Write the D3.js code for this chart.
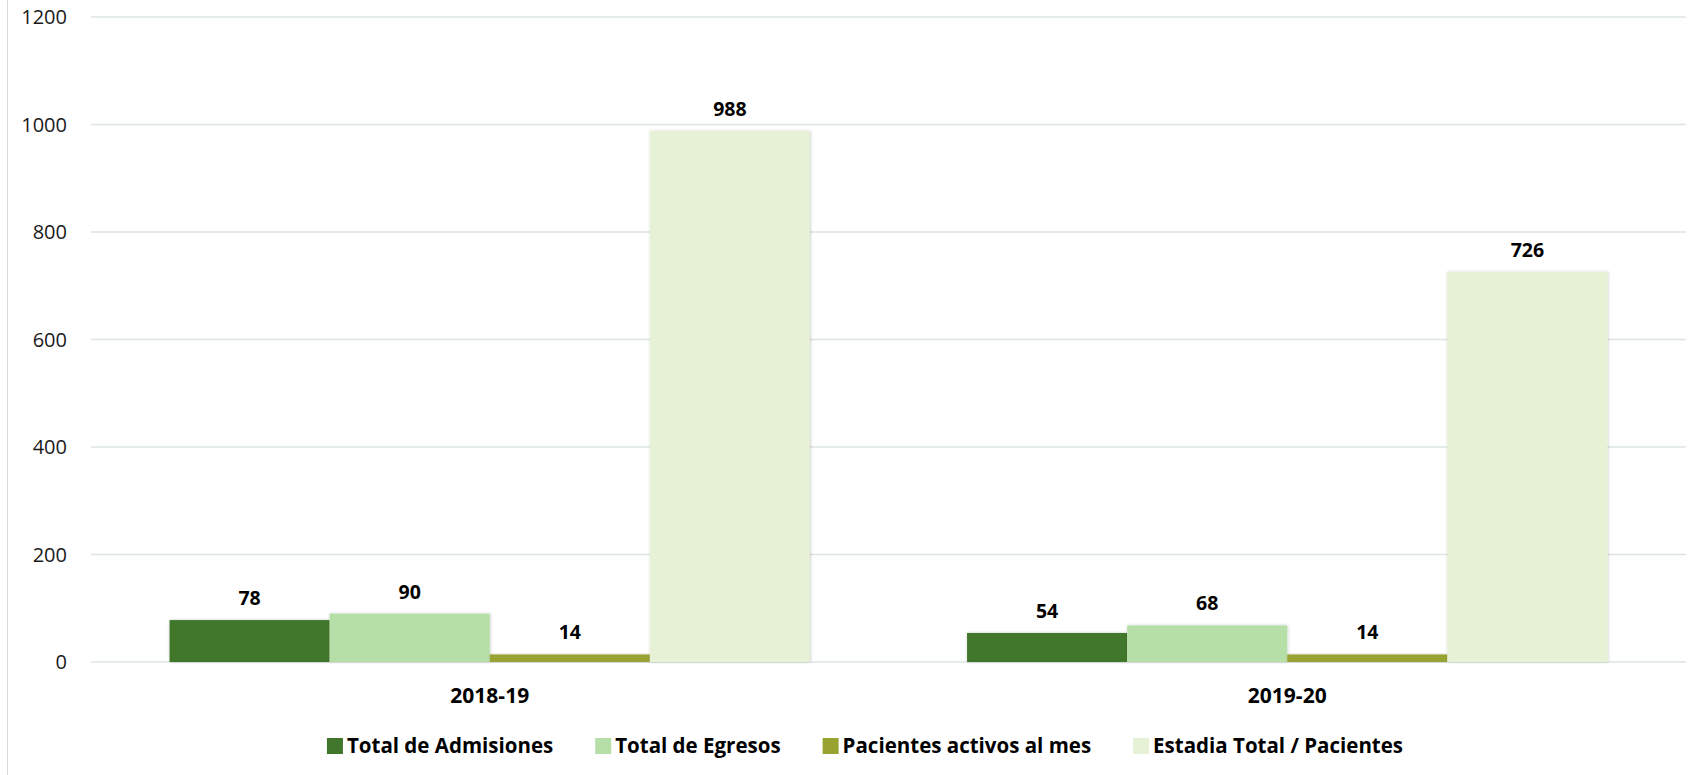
<!DOCTYPE html>
<html>
<head>
<meta charset="utf-8">
<script src="https://cdn.jsdelivr.net/npm/d3@7"></script>
<style>
  body { margin: 0; background: #fff; }
  text { font-family: "Open Sans", "Noto Sans", sans-serif; }
</style>
</head>
<body>
<div id="chart"></div>
<script>
var periods = ["2018-19", "2019-20"];
var seriesNames = ["Total de Admisiones", "Total de Egresos", "Pacientes activos al mes", "Estadia Total / Pacientes"];
var admisiones = [78, 54];
var egresos = [90, 68];
var activos = [14, 14];
var estadia = [988, 726];
var yTicks = [0, 200, 400, 600, 800, 1000, 1200];
var colors = ["#41772c", "#b6dfa8", "#99a330", "#e6f1d5"];

var allSeries = [admisiones, egresos, activos, estadia];

var W = 1692, H = 775;
var margin = {top: 17, right: 6, bottom: 113, left: 91};

var svg = d3.select("#chart").append("svg")
    .attr("width", W)
    .attr("height", H);

var defs = svg.append("defs");
var shadow = defs.append("filter").attr("id", "shadow")
    .attr("x", "-10%").attr("y", "-10%").attr("width", "120%").attr("height", "120%");
shadow.append("feDropShadow")
    .attr("dx", 0.5).attr("dy", 0)
    .attr("stdDeviation", 1.5)
    .attr("flood-color", "#000")
    .attr("flood-opacity", 0.22);

// left chart border
svg.append("line")
    .attr("x1", 7.5).attr("x2", 7.5)
    .attr("y1", 0).attr("y2", H)
    .attr("stroke", "#d9d9d9")
    .attr("stroke-width", 1);

var x0 = d3.scaleBand()
    .domain(periods)
    .range([margin.left, W - margin.right])
    .paddingInner(0.197)
    .paddingOuter(0.0985);

var x1 = d3.scaleBand()
    .domain(d3.range(seriesNames.length))
    .range([0, x0.bandwidth()]);

var y = d3.scaleLinear()
    .domain([0, 1200])
    .range([H - margin.bottom, margin.top]);

// gridlines
svg.selectAll(".grid")
    .data(yTicks)
  .enter().append("line")
    .attr("class", "grid")
    .attr("x1", margin.left)
    .attr("x2", W - margin.right)
    .attr("y1", function(d){ return y(d); })
    .attr("y2", function(d){ return y(d); })
    .attr("stroke", "#dde4e4")
    .attr("stroke-width", 1.5);

svg.selectAll(".ylab")
    .data(yTicks)
  .enter().append("text")
    .attr("class", "ylab")
    .attr("x", 67)
    .attr("y", function(d){ return y(d); })
    .attr("dy", "0.35em")
    .attr("text-anchor", "end")
    .attr("font-size", "20px")
    .attr("fill", "#1a1a1a")
    .text(function(d){ return d; });

// bars
var rows = [];
periods.forEach(function(p, i){
  allSeries.forEach(function(s, j){
    rows.push({period: p, series: j, value: s[i]});
  });
});

svg.selectAll(".bar")
    .data(rows)
  .enter().append("rect")
    .attr("class", "bar")
    .attr("x", function(d){ return x0(d.period) + x1(d.series); })
    .attr("y", function(d){ return y(d.value); })
    .attr("width", x1.bandwidth())
    .attr("height", function(d){ return y(0) - y(d.value); })
    .attr("fill", function(d){ return colors[d.series]; })
    .attr("filter", "url(#shadow)");

svg.selectAll(".val")
    .data(rows)
  .enter().append("text")
    .attr("class", "val")
    .attr("x", function(d){ return x0(d.period) + x1(d.series) + x1.bandwidth()/2; })
    .attr("y", function(d){ return y(d.value) - 15; })
    .attr("text-anchor", "middle")
    .attr("font-size", "19.5px")
    .attr("font-weight", "bold")
    .attr("fill", "#000")
    .text(function(d){ return d.value; });

// category labels
svg.selectAll(".cat")
    .data(periods)
  .enter().append("text")
    .attr("class", "cat")
    .attr("x", function(d){ return x0(d) + x0.bandwidth()/2; })
    .attr("y", 703)
    .attr("text-anchor", "middle")
    .attr("font-size", "21px")
    .attr("font-weight", "bold")
    .attr("fill", "#000")
    .text(function(d){ return d; });

// legend
var legend = svg.append("g");
var items = legend.selectAll(".leg")
    .data(seriesNames)
  .enter().append("g")
    .attr("class", "leg");

items.append("rect")
    .attr("width", 16).attr("height", 16)
    .attr("y", -15)
    .attr("fill", function(d, i){ return colors[i]; });

items.append("text")
    .attr("x", 20)
    .attr("font-size", "20.5px")
    .attr("font-weight", "bold")
    .attr("fill", "#000")
    .text(function(d){ return d; });

var offset = 0;
items.each(function(){
  var g = d3.select(this);
  g.attr("transform", "translate(" + offset + ",0)");
  offset += 20 + g.select("text").node().getComputedTextLength() + 42;
});
var legendWidth = offset - 42;
legend.attr("transform", "translate(" + (865 - legendWidth/2) + ",753)");
</script>
</body>
</html>
